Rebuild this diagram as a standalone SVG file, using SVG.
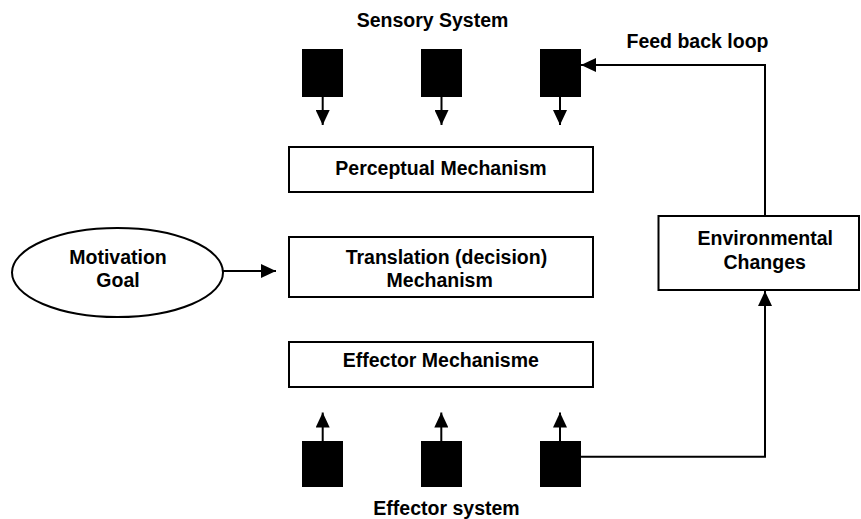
<svg xmlns="http://www.w3.org/2000/svg" width="861" height="519" viewBox="0 0 861 519">
<style>
  .box { fill: #ffffff; stroke: #000000; stroke-width: 2; }
  .blk { fill: #000000; stroke: none; }
  .ln { fill: none; stroke: #000000; stroke-width: 2; }
  .t { font-family: "Liberation Sans", Arial, sans-serif; font-weight: bold; font-size: 19.5px; fill: #000000; text-anchor: middle; }
</style>
<defs>
  <marker id="ah" markerUnits="userSpaceOnUse" markerWidth="15" markerHeight="14" refX="15" refY="7" orient="auto">
    <path d="M0,0 L15,7 L0,14 Z" fill="#000000"/>
  </marker>
</defs>
<rect x="0" y="0" width="861" height="519" fill="#ffffff"/>

<g id="labels">
  <text class="t" x="432.5" y="27">Sensory System</text>
  <text class="t" x="697.5" y="47.5">Feed back loop</text>
  <text class="t" x="446.5" y="514.5">Effector system</text>
</g>

<g id="sensor1"><rect class="blk" x="302" y="49" width="41" height="48"/></g>
<g id="sensor2"><rect class="blk" x="421" y="49" width="41" height="48"/></g>
<g id="sensor3"><rect class="blk" x="540" y="49" width="41" height="48"/></g>

<g id="perceptual">
  <rect class="box" x="289" y="147" width="304" height="45"/>
  <text class="t" x="441" y="175">Perceptual Mechanism</text>
</g>

<g id="translation">
  <rect class="box" x="289" y="237" width="304" height="60"/>
  <text class="t" x="446.4" y="264">Translation (decision)</text>
  <text class="t" x="439.7" y="287">Mechanism</text>
</g>

<g id="effector">
  <rect class="box" x="289" y="342" width="304" height="45"/>
  <text class="t" x="440.8" y="367">Effector Mechanisme</text>
</g>

<g id="motivation">
  <ellipse class="box" cx="117.5" cy="272.5" rx="105.5" ry="44.5"/>
  <text class="t" x="118" y="264">Motivation</text>
  <text class="t" x="118" y="287">Goal</text>
</g>

<g id="environment">
  <rect class="box" x="658.5" y="216" width="200.5" height="74"/>
  <text class="t" x="765.3" y="245">Environmental</text>
  <text class="t" x="764.7" y="269">Changes</text>
</g>

<g id="effector1"><rect class="blk" x="302" y="441" width="41" height="46"/></g>
<g id="effector2"><rect class="blk" x="421" y="441" width="41" height="46"/></g>
<g id="effector3"><rect class="blk" x="540" y="441" width="41" height="46"/></g>

<g id="connectors">
  <line class="ln" x1="322.7" y1="97" x2="322.7" y2="125" marker-end="url(#ah)"/>
  <line class="ln" x1="441.5" y1="97" x2="441.5" y2="125" marker-end="url(#ah)"/>
  <line class="ln" x1="560" y1="97" x2="560" y2="125" marker-end="url(#ah)"/>
  <line class="ln" x1="322.7" y1="441" x2="322.7" y2="412.5" marker-end="url(#ah)"/>
  <line class="ln" x1="441.3" y1="441" x2="441.3" y2="412.5" marker-end="url(#ah)"/>
  <line class="ln" x1="560" y1="441" x2="560" y2="412.5" marker-end="url(#ah)"/>
  <line class="ln" x1="223" y1="271" x2="276" y2="271" marker-end="url(#ah)"/>
  <path class="ln" d="M765,216 V65 H581" marker-end="url(#ah)"/>
  <path class="ln" d="M581,456.7 H765 V291" marker-end="url(#ah)"/>
</g>
</svg>
